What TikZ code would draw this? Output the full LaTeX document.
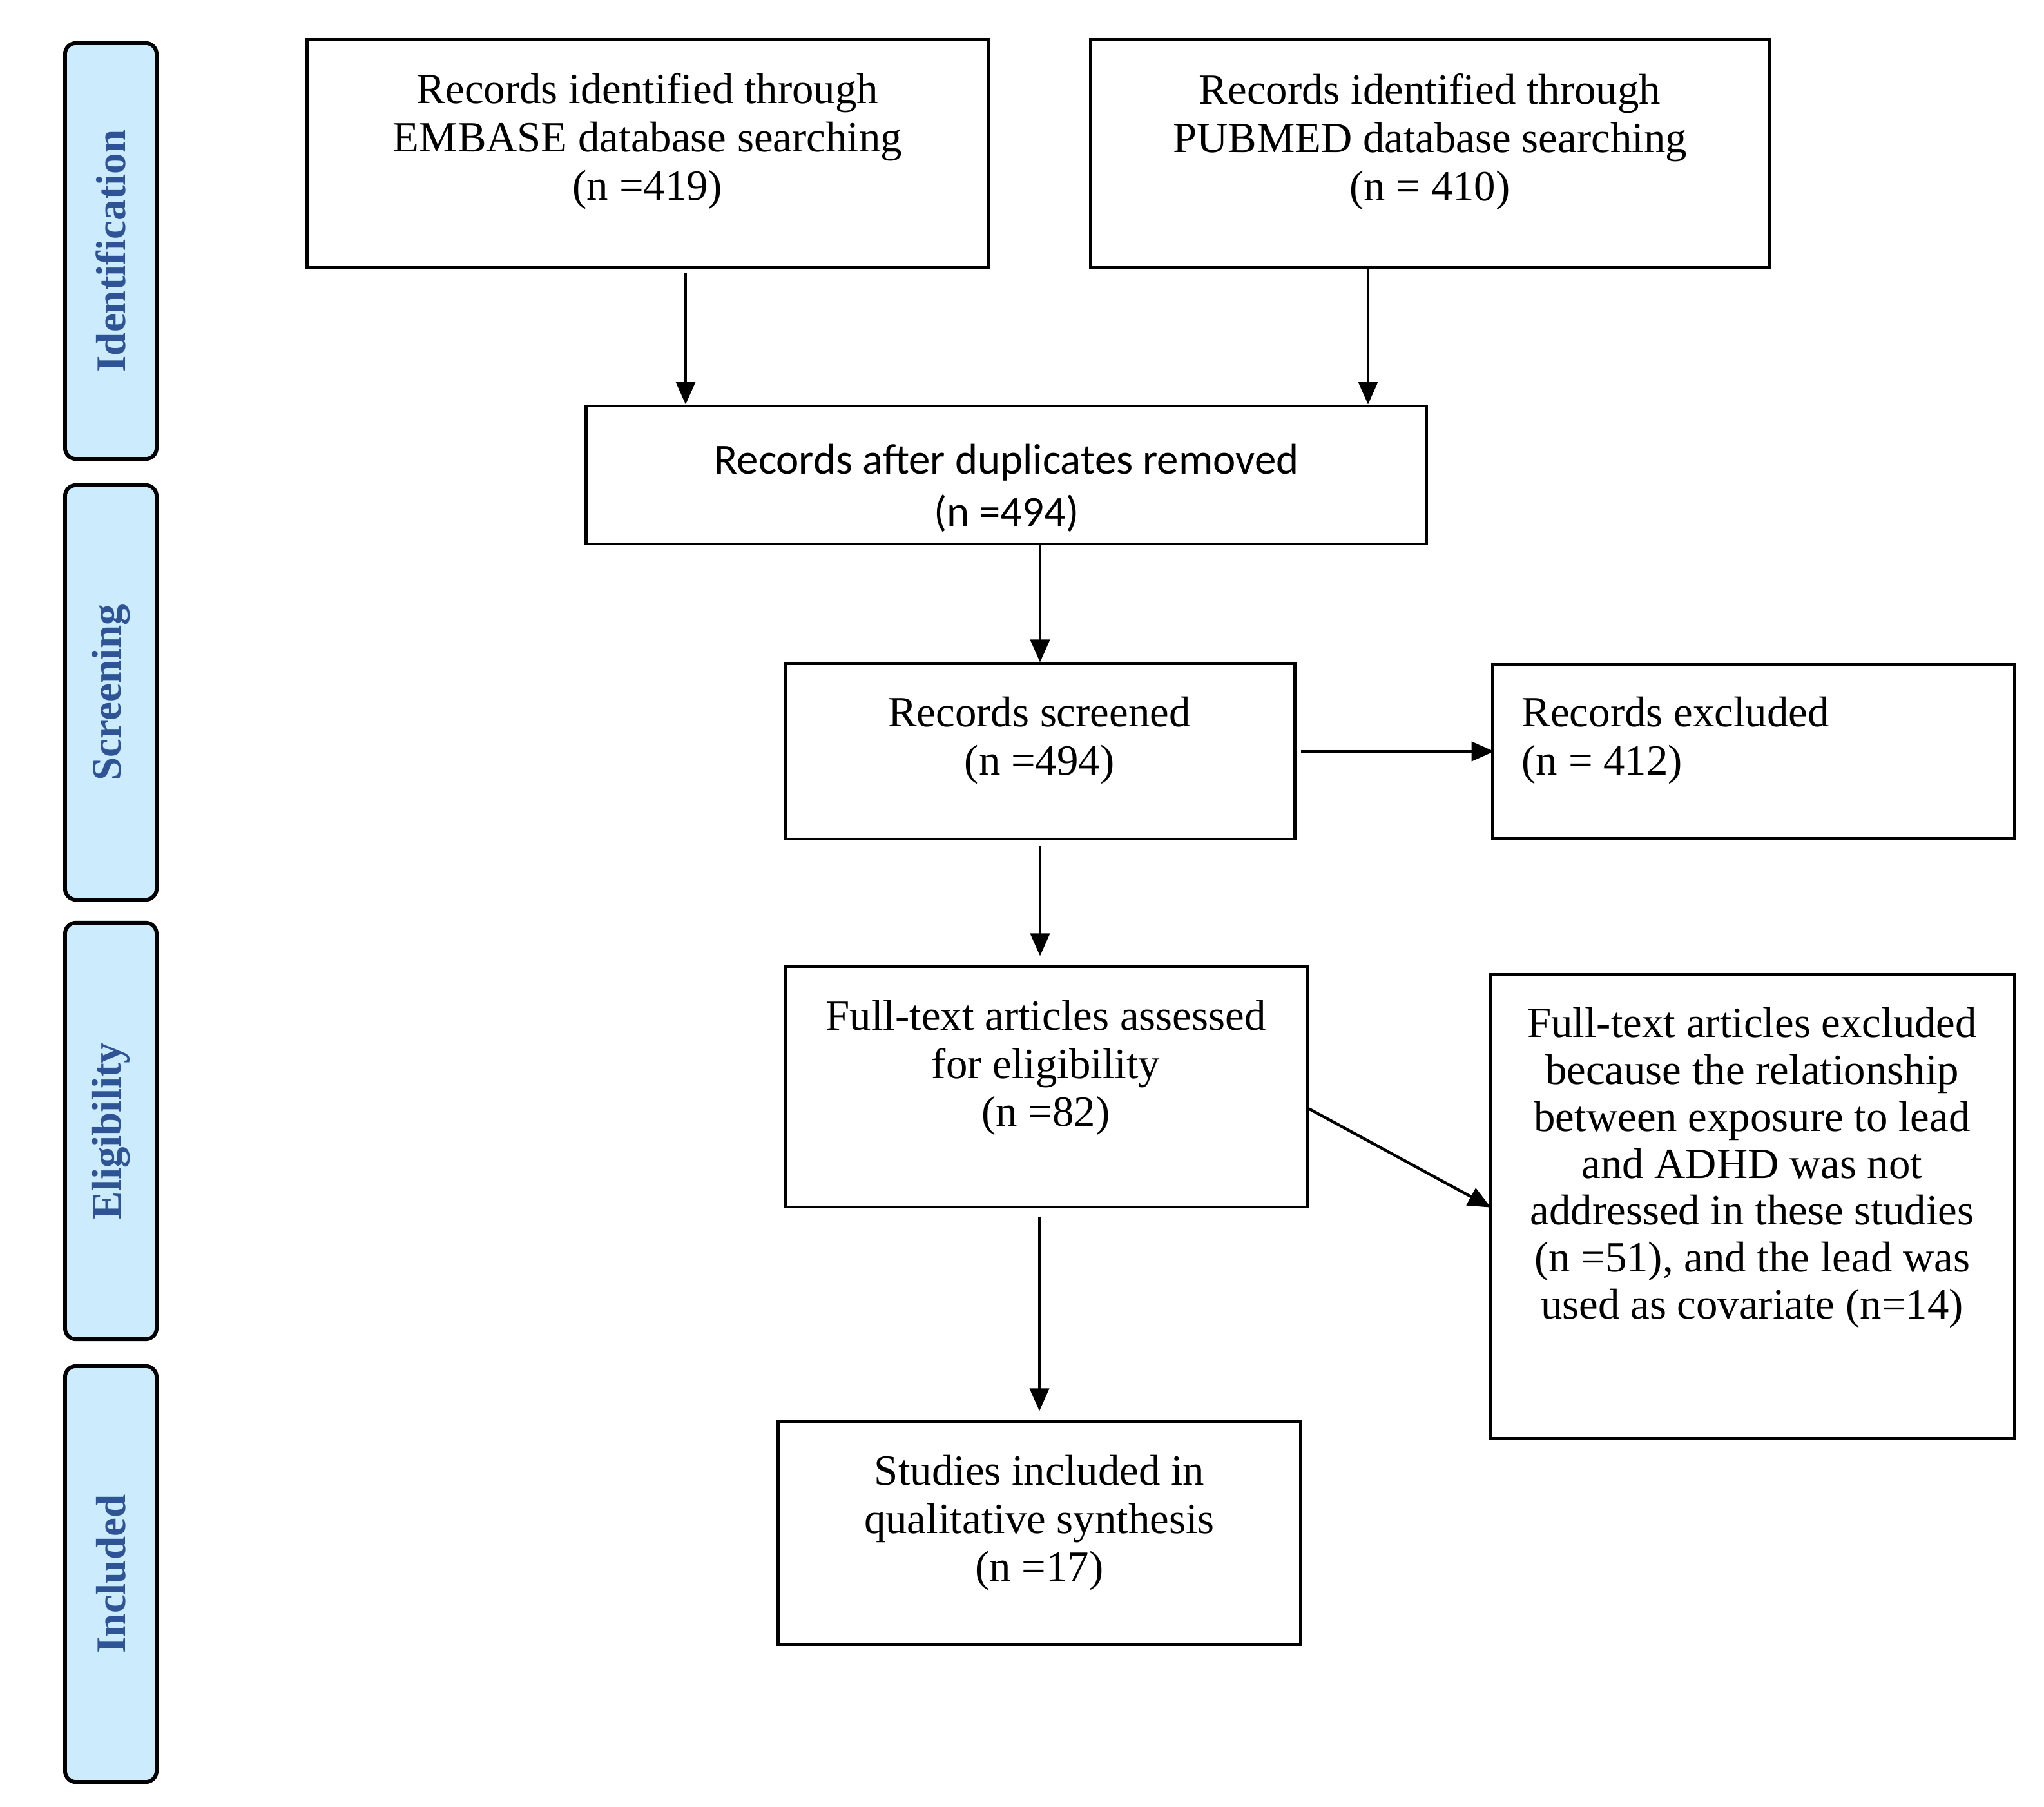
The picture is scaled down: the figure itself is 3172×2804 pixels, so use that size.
\documentclass[tikz,border=0pt]{standalone}
\usepackage{fontspec}
\setmainfont{Liberation Serif}
\newfontfamily\calib{Carlito}
\usetikzlibrary{arrows.meta}
\definecolor{lblfill}{HTML}{CCEBFD}
\definecolor{lbltext}{HTML}{2F5496}
\begin{document}
\begin{tikzpicture}[x=0.01cm,y=-0.01cm,
  box/.style={draw, line width=1.3pt, inner sep=0pt},
  txt/.style={align=center, font=\fontsize{19}{21.3}\selectfont, inner sep=0pt},
  lbl/.style={draw, line width=1.7pt, fill=lblfill, rounded corners=0.17cm, inner sep=0pt, minimum width=1.42cm},
  lbltxt/.style={rotate=90, font=\fontsize{18.5}{20}\selectfont\bfseries, text=lbltext, inner sep=0pt},
  arr/.style={-{Triangle[length=10pt,width=8.5pt]}, line width=1.25pt}]
\useasboundingbox[fill=white] (0,0) rectangle (3172,2804);

% side phase labels
\node[lbl, minimum height=6.45cm] (lid) at (172,389.5) {};
\node[lbltxt] (tid) at (lid.center) {Identification};
\node[lbl, minimum height=6.43cm] (lsc) at (172,1074.5) {};
\node[lbltxt] (tsc) at (lsc.center) {Screening};
\node[lbl, minimum height=6.46cm] (lel) at (172,1755) {};
\node[lbltxt] (tel) at (lel.center) {Eligibility};
\node[lbl, minimum height=6.45cm] (lin) at (172,2442.5) {};
\node[lbltxt] (tin) at (lin.center) {Included};

% boxes
\node[box, minimum width=10.57cm, minimum height=3.54cm] (embase) at (1005.5,238) {};
\node[txt] (tembase) at (1005,219) {Records identified through\\EMBASE database searching\\(n =419)};

\node[box, minimum width=10.53cm, minimum height=3.54cm] (pubmed) at (2219.5,238) {};
\node[txt] (tpubmed) at (2219,220) {Records identified through\\PUBMED database searching\\(n = 410)};

\node[box, minimum width=13.03cm, minimum height=2.14cm] (dup) at (1561.5,737) {};
\node[txt, font=\calib\fontsize{19}{23}\selectfont] (tdup) at (1562,757) {Records after duplicates removed\\(n =494)};

\node[box, minimum width=7.90cm, minimum height=2.72cm] (screened) at (1614,1166) {};
\node[txt] (tscreened) at (1613,1149) {Records screened\\(n =494)};

\node[box, minimum width=8.10cm, minimum height=2.70cm] (excl) at (2721,1166) {};
\node[txt, align=left, anchor=west] (texcl) at (2361,1149) {Records excluded\\(n = 412)};

\node[box, minimum width=8.10cm, minimum height=3.73cm] (fulltext) at (1624,1686.5) {};
\node[txt] (tfulltext) at (1623,1657) {Full-text articles assessed\\for eligibility\\(n =82)};

\node[box, minimum width=8.13cm, minimum height=7.20cm] (ftexcl) at (2719.5,1872) {};
\node[txt, font=\fontsize{19}{20.7}\selectfont] (tftexcl) at (2719,1812) {Full-text articles excluded\\because the relationship\\between exposure to lead\\and ADHD was not\\addressed in these studies\\(n =51), and the lead was\\used as covariate (n=14)};

\node[box, minimum width=8.10cm, minimum height=3.46cm] (studies) at (1613,2379) {};
\node[txt] (tstudies) at (1613,2363) {Studies included in\\qualitative synthesis\\(n =17)};

% connectors
\coordinate (xa) at (1064,0);
\coordinate (xb) at (2123,0);
\draw[arr, shorten <=2pt] (embase.south -| xa) -- (dup.north -| xa);
\draw[arr] (pubmed.south -| xb) -- (dup.north -| xb);
\draw[arr] (screened.north |- dup.south) -- (screened.north);
\draw[arr, shorten <=2pt, shorten >=-1.5pt] (screened.east) -- (excl.west);
\draw[arr, shorten <=2.5pt, shorten >=4pt] (screened.south) -- (fulltext.north -| screened.south);
\draw[arr, shorten >=-1pt] ([yshift=-9.7pt]fulltext.east) -- (ftexcl.west);
\draw[arr, shorten <=3.5pt, shorten >=4pt] (fulltext.south -| studies.north) -- (studies.north);
\end{tikzpicture}
\end{document}
